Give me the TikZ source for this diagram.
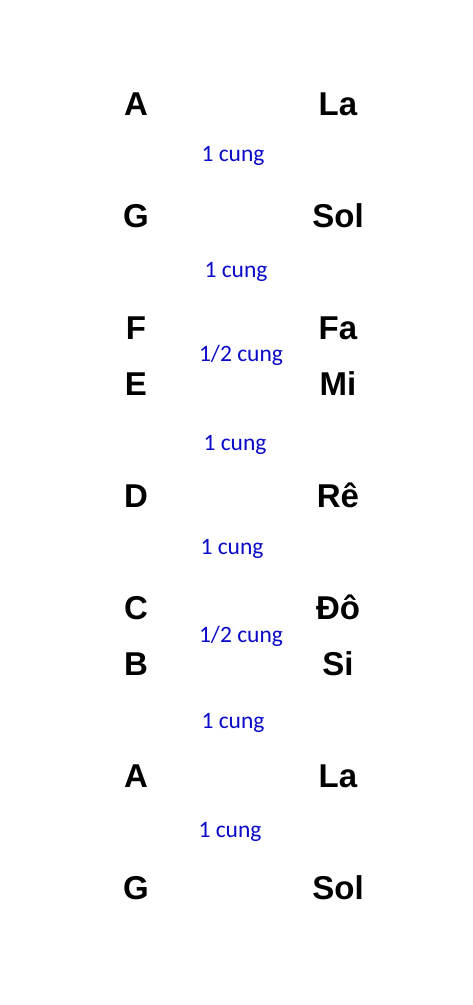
\documentclass[tikz,border=0pt]{standalone}
\usepackage{fontspec}
\setmainfont{Liberation Sans}
\newfontfamily\cungfont{Carlito}
\definecolor{cungblue}{RGB}{10,10,200}
\tikzset{note/.style={font=\bfseries\fontsize{33}{37}\selectfont, anchor=base, inner sep=0pt},
         step label/.style={font=\cungfont\fontsize{23.5}{27}\selectfont, text=cungblue, anchor=base, inner sep=0pt}}

\begin{document}
\begin{tikzpicture}[x=1pt, y=1pt]
                \useasboundingbox[fill=white] (0,0) rectangle (472,-1005);

                \node[note] (a1) at (136, -115) {A};
                \node[note] (la1) at (338, -115) {La};
                \node[step label] (i1) at (233, -161) {1 cung};

                \node[note] (g1) at (136, -227) {G};
                \node[note] (sol1) at (338, -227) {Sol};
                \node[step label] (i2) at (236, -277) {1 cung};

                \node[note] (f) at (136, -339) {F};
                \node[note] (fa) at (338, -339) {Fa};
                \node[step label] (i3) at (241, -361) {1/2 cung};

                \node[note] (e) at (136, -395) {E};
                \node[note] (mi) at (338, -395) {Mi};
                \node[step label] (i4) at (235, -450) {1 cung};

                \node[note] (d) at (136, -507) {D};
                \node[note] (re) at (338, -507) {Rê};
                \node[step label] (i5) at (232, -554) {1 cung};

                \node[note] (c) at (136, -619) {C};
                \node[note] (do) at (338, -619) {Đô};
                \node[step label] (i6) at (241, -642) {1/2 cung};

                \node[note] (b) at (136, -675) {B};
                \node[note] (si) at (338, -675) {Si};
                \node[step label] (i7) at (233, -728) {1 cung};

                \node[note] (a2) at (136, -787) {A};
                \node[note] (la2) at (338, -787) {La};
                \node[step label] (i8) at (230, -837) {1 cung};

                \node[note] (g2) at (136, -899) {G};
                \node[note] (sol2) at (338, -899) {Sol};
            \end{tikzpicture}
\end{document}
